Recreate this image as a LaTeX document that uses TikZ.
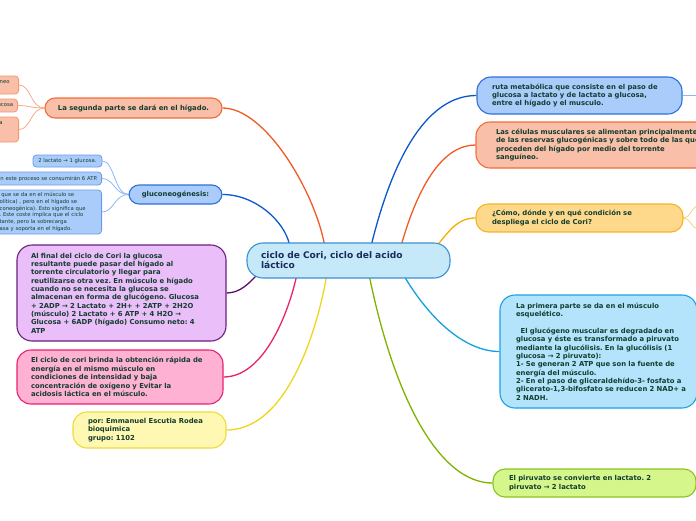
\documentclass[tikz,border=0pt]{standalone}
\usepackage{fontspec}
\setmainfont{DejaVu Sans}
\usetikzlibrary{calc}
\pgfdeclarelayer{background}
\pgfsetlayers{background,main}
\definecolor{txt}{HTML}{123D2F}
\definecolor{ctxt}{HTML}{1A2B5C}
\definecolor{salmonF}{HTML}{F9BFA8}\definecolor{salmonD}{HTML}{F26B3A}\definecolor{salmonL}{HTML}{F05A24}\definecolor{salmonT}{HTML}{F8A98A}
\definecolor{blueF}{HTML}{A9CCFA}\definecolor{blueD}{HTML}{2F6FDB}\definecolor{blueL}{HTML}{0B57CC}\definecolor{blueT}{HTML}{8DB8F5}
\definecolor{purpF}{HTML}{EABEF8}\definecolor{purpD}{HTML}{6D1F7C}\definecolor{purpL}{HTML}{5C0F66}
\definecolor{pinkF}{HTML}{FFB1D3}\definecolor{pinkD}{HTML}{E8226E}
\definecolor{ylwF}{HTML}{FFF8B2}\definecolor{ylwD}{HTML}{F0DA3A}\definecolor{ylwL}{HTML}{EED51E}
\definecolor{orgF}{HTML}{FFD98B}\definecolor{orgD}{HTML}{F6B326}\definecolor{orgL}{HTML}{F5AE00}\definecolor{orgT}{HTML}{FAD17A}
\definecolor{lbF}{HTML}{B4E4FB}\definecolor{lbD}{HTML}{17A2E5}\definecolor{lbL}{HTML}{10A0E0}
\definecolor{grnF}{HTML}{D5F68A}\definecolor{grnD}{HTML}{8CC41E}\definecolor{grnL}{HTML}{7DB400}
\definecolor{cenF}{HTML}{C6E9FA}\definecolor{cenD}{HTML}{3C8FD1}
\newcommand\fmain{\fontsize{6.85}{8.35}\selectfont\bfseries\frenchspacing}
\newcommand\fsmall{\fontsize{5.3}{6.7}\selectfont\frenchspacing}
\newcommand\fcenter{\fontsize{9.1}{10}\selectfont\bfseries\frenchspacing}
\newcommand\nb[1]{\mbox{#1}}
\begin{document}
\begin{tikzpicture}[x=1pt,y=-1pt,
  mbox/.style={draw, line width=1.1pt, rounded corners=10pt, inner sep=0pt, text=txt, font=\fmain, align=left},
  sbox/.style={draw, line width=0.8pt, rounded corners=3.5pt, inner ysep=0pt, text=txt, font=\fsmall},
  conn/.style={line width=1.3pt},
  thinc/.style={line width=0.8pt}]
\useasboundingbox (0,0) rectangle (696,520);

% center
\node[mbox, font=\fcenter, text=ctxt, fill=cenF, draw=cenD, rounded corners=16pt,
  minimum width=203, minimum height=35, text width=175] (cen) at (348.5,260.5)
  {\nb{ciclo de Cori, ciclo del acido}\\\nb{láctico}};

% left side
\node[mbox, fill=salmonF, draw=salmonD, minimum width=177, minimum height=20, align=center] (seg) at (133.5,108)
  {La segunda parte se dará en el hígado.};
\node[mbox, fill=blueF, draw=blueD, minimum width=93, minimum height=19, align=center] (glu) at (175.5,194.5)
  {gluconeogénesis:};
\node[mbox, fill=purpF, draw=purpD, rounded corners=15pt, minimum width=209, minimum height=96, text width=181] (pur) at (121.5,293)
  {\nb{Al final del ciclo de Cori la glucosa}\\
   \nb{resultante puede pasar del hígado al}\\
   \nb{torrente circulatorio y llegar para}\\
   \nb{reutilizarse otra vez. En músculo e hígado}\\
   \nb{cuando no se necesita la glucosa se}\\
   \nb{almacenan en forma de glucógeno. Glucosa}\\
   \nb{+ 2ADP → 2 Lactato + 2H+ + 2ATP + 2H2O}\\
   \nb{(músculo) 2 Lactato + 6 ATP + 4 H2O →}\\
   \nb{Glucosa + 6ADP (hígado) Consumo neto: 4}\\
   \nb{ATP}};
\node[mbox, fill=pinkF, draw=pinkD, rounded corners=14pt, minimum width=206, minimum height=54, text width=178] (pin) at (120,377)
  {\nb{El ciclo de cori brinda la obtención rápida de}\\
   \nb{energía en el mismo músculo en}\\
   \nb{condiciones de intensidad y baja}\\
   \nb{concentración de oxígeno y Evitar la}\\
   \nb{acidosis láctica en el músculo.}};
\node[mbox, fill=ylwF, draw=ylwD, rounded corners=14pt, minimum width=153, minimum height=36, text width=123] (ylw) at (149.5,430)
  {\nb{por: Emmanuel Escutia Rodea}\\
   \nb{bioquimica}\\
   \nb{grupo: 1102}};

% small left children
\node[sbox, fill=salmonF, draw=salmonD!70, anchor=east, inner xsep=9pt, text width=40, align=right, minimum height=18] (s1) at (19,85)
  {íneo\\\mbox{}};
\node[sbox, fill=salmonF, draw=salmonD!70, anchor=east, inner xsep=4.5pt, text width=40, align=right, minimum height=13] (s2) at (18,105.5)
  {ucosa};
\node[sbox, fill=salmonF, draw=salmonD!70, anchor=east, inner xsep=16pt, text width=40, align=right, minimum height=25] (s3) at (19,129.5)
  {a\\\mbox{}\\\mbox{}};
\node[sbox, fill=blueF, draw=blueD!70, minimum width=69, minimum height=12, inner xsep=0pt] (b1) at (67.5,161)
  {2 lactato → 1 glucosa.};
\node[sbox, fill=blueF, draw=blueD!70, anchor=east, inner xsep=4pt, text width=140, align=right, minimum height=13] (b2) at (102,178.5)
  {\nb{n este proceso se consumirán 6 ATP.}};
\node[sbox, fill=blueF, draw=blueD!70, anchor=east, inner xsep=3pt, text width=99, align=left, minimum height=44] (b3) at (102,212)
  {\nb{ que se da en el músculo se}\\
   \nb{olítica) , pero en el hígado se}\\
   \nb{coneogénica). Esto significa que}\\
   \nb{. Este coste implica que el ciclo}\\
   \nb{tante, pero la sobrecarga}\\
   \nb{asa y soporta en el hígado.}};

% right side
\node[mbox, fill=blueF, draw=blueD, rounded corners=14pt, minimum width=205, minimum height=37, text width=175] (rut) at (579.5,95.5)
  {\nb{ruta metabólica que consiste en el paso de}\\
   \nb{glucosa a lactato y de lactato a glucosa,}\\
   \nb{entre el hígado y el musculo.}};
\node[mbox, fill=salmonF, draw=salmonD, rounded corners=14pt, minimum width=284, minimum height=46, text width=244] (cel) at (618,145)
  {\nb{Las células musculares se alimentan principalmente}\\
   \nb{de las reservas glucogénicas y sobre todo de las que}\\
   \nb{proceden del hígado por medio del torrente}\\
   \nb{sanguíneo.}};
\node[mbox, fill=orgF, draw=orgD, rounded corners=12pt, minimum width=207, minimum height=28, text width=175] (com) at (579.5,218)
  {\nb{¿Cómo, dónde y en qué condición se}\\
   \nb{despliega el ciclo de Cori?}};
\node[mbox, fill=lbF, draw=lbD, rounded corners=15pt, minimum width=197, minimum height=113, text width=165] (pri) at (598.5,351.5)
  {\nb{La primera parte se da en el músculo}\\
   \nb{esquelético.}\\
   \mbox{}\\
   \nb{\ \ El glucógeno muscular es degradado en}\\
   \nb{glucosa y éste es transformado a piruvato}\\
   \nb{mediante la glucólisis. En la glucólisis (1}\\
   \nb{glucosa → 2 piruvato):}\\
   \nb{1- Se generan 2 ATP que son la fuente de}\\
   \nb{energía del músculo.}\\
   \nb{2- En el paso de gliceraldehído-3- fosfato a}\\
   \nb{glicerato-1,3-bifosfato se reducen 2 NAD+ a}\\
   \nb{2 NADH.}};
\node[mbox, fill=grnF, draw=grnD, rounded corners=12pt, minimum width=203, minimum height=28, text width=171] (pir) at (594.5,483)
  {\nb{El piruvato se convierte en lactato. 2}\\
   \nb{piruvato → 2 lactato}};

\coordinate (rutR) at (698,95.5);
\coordinate (comA) at (698,206);
\coordinate (comB) at (698,229);

\begin{pgfonlayer}{background}
\draw[conn, salmonL] (seg.east) .. controls +(43,0) and +(-10,-53) .. ($(cen.north west)+(78,2)$);
\draw[conn, blueL] (glu.east) .. controls +(33,0) and +(-5,-23) .. ($(cen.north west)+(43,2)$);
\draw[conn, purpL] (pur.east) .. controls +(14,0) and +(-7,7) .. ($(cen.south west)+(10,-3)$);
\draw[conn, pinkD] (pin.east) .. controls +(42,0) and +(-7,32) .. ($(cen.south west)+(50,-2)$);
\draw[conn, ylwL] (ylw.east) .. controls +(64,0) and +(-7,42) .. ($(cen.south west)+(80,-2)$);
\draw[conn, grnL] ($(cen.south west)+(123,-2)$) .. controls +(25,122) and +(-53,0) .. (pir.west);
\draw[conn, lbL] ($(cen.south west)+(158,-2)$) .. controls +(25,42) and +(-35,0) .. (pri.west);
\draw[conn, blueL] ($(cen.north west)+(125,2)$) .. controls +(23,-93) and +(-47,0) .. (rut.west);
\draw[conn, salmonL] ($(cen.north west)+(155,2)$) .. controls +(18,-63) and +(-31,0) .. (cel.west);
\draw[conn, orgL] ($(cen.north west)+(190,4)$) .. controls +(15,-19) and +(-16,0) .. (com.west);
\draw[thinc, salmonT] (seg.west) .. controls +(-14,0) and +(12,0) .. (s1.east);
\draw[thinc, salmonT] (seg.west) .. controls +(-14,0) and +(12,0) .. (s2.east);
\draw[thinc, salmonT] (seg.west) .. controls +(-14,0) and +(12,0) .. (s3.east);
\draw[thinc, blueT] (glu.west) .. controls +(-14,0) and +(12,0) .. (b1.east);
\draw[thinc, blueT] (glu.west) .. controls +(-14,0) and +(12,0) .. (b2.east);
\draw[thinc, blueT] (glu.west) .. controls +(-14,0) and +(12,0) .. (b3.east);
\draw[thinc, blueT] (rut.east) -- (rutR);
\draw[thinc, orgT] (com.east) .. controls +(7,0) and +(-6,0) .. (comA);
\draw[thinc, orgT] (com.east) .. controls +(7,0) and +(-6,0) .. (comB);
\end{pgfonlayer}
\end{tikzpicture}
\end{document}
